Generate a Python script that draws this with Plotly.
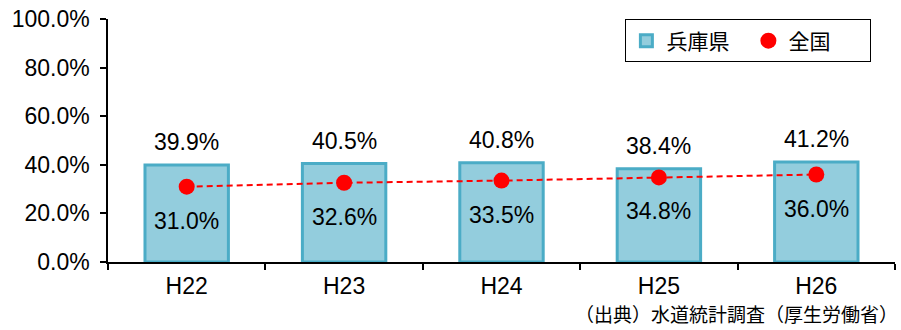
import plotly.graph_objects as go

# 有収水量ベースの比率（兵庫県 vs 全国）
years = ["H22", "H23", "H24", "H25", "H26"]
hyogo = [39.9, 40.5, 40.8, 38.4, 41.2]
zenkoku = [31.0, 32.6, 33.5, 34.8, 36.0]
y_ticks = [0, 20, 40, 60, 80, 100]
y_tick_text = [f"{v:.1f}%" for v in y_ticks]
source_note = "（出典）水道統計調査（厚生労働省）"

FONT = "Liberation Sans, Arial, sans-serif"
CJK = "Noto Sans CJK JP, sans-serif"
FS = 23

fig = go.Figure()

fig.add_trace(go.Bar(
    x=years, y=hyogo, name="兵庫県",
    marker=dict(color="#93CDDD", line=dict(color="#4BACC6", width=3)),
    width=0.53,
))

# dashed connector for the national series
fig.add_trace(go.Scatter(
    x=years, y=zenkoku, mode="lines", showlegend=False,
    line=dict(color="#FF0000", width=2, dash="6px,4px"),
    hoverinfo="skip",
))
fig.add_trace(go.Scatter(
    x=years, y=zenkoku, mode="markers", name="全国",
    marker=dict(color="#FF0000", size=16, line=dict(width=0)),
))

annotations = []
for x, v in zip(years, hyogo):
    annotations.append(dict(
        x=x, y=v, xref="x", yref="y", text=f"{v:.1f}%", showarrow=False,
        yanchor="bottom", yshift=8, font=dict(family=FONT, size=FS, color="#000000"),
    ))
for x, v in zip(years, zenkoku):
    annotations.append(dict(
        x=x, y=v, xref="x", yref="y", text=f"{v:.1f}%", showarrow=False,
        yanchor="top", yshift=-19, font=dict(family=FONT, size=FS, color="#000000"),
    ))
annotations.append(dict(
    x=1.006, y=-0.210, xref="paper", yref="paper", text=source_note,
    showarrow=False, xanchor="right", yanchor="middle",
    font=dict(family=CJK, size=19, color="#000000"),
))

fig.update_layout(
    width=901, height=330,
    margin=dict(l=108, r=6, t=17, b=68),
    paper_bgcolor="white", plot_bgcolor="white",
    bargap=0.47,
    showlegend=True,
    legend=dict(
        orientation="h", x=0.970, y=0.998, xanchor="right", yanchor="top",
        bordercolor="#000000", borderwidth=1, bgcolor="white",
        font=dict(family=CJK, size=21, color="#000000"),
        itemwidth=30, traceorder="normal", entrywidth=77,
    ),
    annotations=annotations,
    font=dict(family=FONT, color="#000000"),
)

fig.update_xaxes(
    showline=True, linecolor="#000000", linewidth=1.5,
    ticks="outside", ticklen=6, tickcolor="#000000", tickwidth=1.5,
    tickson="boundaries", showgrid=False, ticklabelstandoff=3,
    tickfont=dict(family=FONT, size=FS, color="#000000"),
    range=[-0.5, 4.5],
)
fig.update_yaxes(
    range=[0, 100], tickvals=y_ticks, ticktext=y_tick_text,
    showline=True, linecolor="#000000", linewidth=1.5,
    ticks="outside", ticklen=6, tickcolor="#000000", tickwidth=1.5,
    showgrid=False, zeroline=False, ticklabelstandoff=6,
    tickfont=dict(family=FONT, size=FS, color="#000000"),
)

fig.write_html("out.html")
